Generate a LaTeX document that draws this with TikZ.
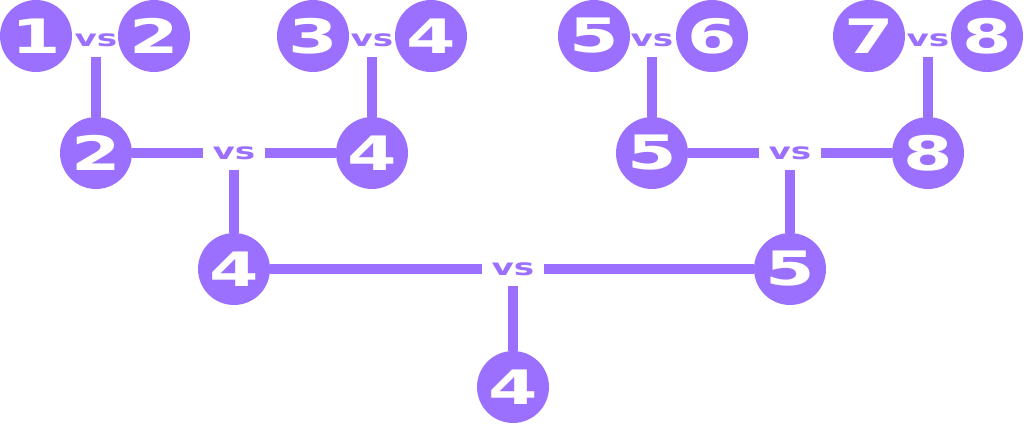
\documentclass[tikz,border=0pt]{standalone}
\usepackage{fontspec}
\newfontfamily\bracketfont[FakeStretch=1.5]{DejaVu Sans}
\definecolor{bracketpurple}{HTML}{9B70FE}

\begin{document}
\begin{tikzpicture}[
		x=0.02cm, y=-0.02cm,
		team/.style={circle, fill=bracketpurple, minimum size=1.44cm, inner sep=0pt, outer sep=0pt, text=white, font=\bracketfont\bfseries\fontsize{27}{27}\selectfont},
		versus/.style={inner sep=0.2cm, outer sep=0pt, text=bracketpurple, font=\bracketfont\bfseries\fontsize{13}{13}\selectfont},
		line width=0.2cm, bracketpurple
		]
		\useasboundingbox (0,0) rectangle (1024,423);
		% first round
		\node[team] at (36,36) (t1) {1};
		\node[versus] at (96,40) (vs12) {vs};
		\node[team] at (154,36) (t2) {2};
		
		\node[team] at (313,36) (t3) {3};
		\node[versus] at (372,40) (vs34) {vs};
		\node[team] at (431,36) (t4) {4};
		
		\node[team] at (594,36) (t5) {5};
		\node[versus] at (652,40) (vs56) {vs};
		\node[team] at (712,36) (t6) {6};
		
		\node[team] at (869,36) (t7) {7};
		\node[versus] at (928,40) (vs78) {vs};
		\node[team] at (987,36) (t8) {8};
		
		% second round
		\node[team] at (96,153) (s2) {2};
		\node[versus] at (234,153) (vsA) {vs};
		\node[team] at (372,153) (s4) {4};
		
		\node[team] at (652,153) (s5) {5};
		\node[versus] at (790,153) (vsB) {vs};
		\node[team] at (928,153) (s8) {8};
		
		% final
		\node[team] at (234,269) (f4) {4};
		\node[versus] at (513,269) (vsF) {vs};
		\node[team] at (790,269) (f5) {5};
		
		\node[team] at (513,387) (w4) {4};
		
		% draw lines
		\draw (vs12) edge (s2);
		\draw (vs34) edge (s4);
		\draw (vs56) edge (s5);
		\draw (vs78) edge (s8);
		
		\draw (s2) edge (vsA);
		\draw (vsA) edge (s4);
		\draw (s5) edge (vsB);
		\draw (vsB) edge (s8);
		
		\draw (vsA) edge (f4);
		\draw (vsB) edge (f5);
		
		\draw (f4) edge (vsF);
		\draw (vsF) edge (f5);
		\draw (vsF) edge (w4);
		
	\end{tikzpicture}
\end{document}
